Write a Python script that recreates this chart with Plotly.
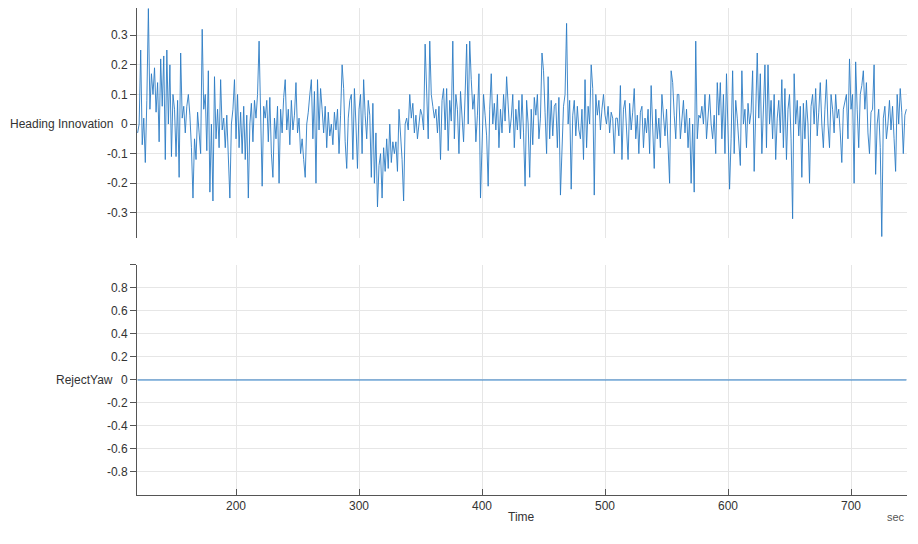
import plotly.graph_objects as go
from plotly.subplots import make_subplots

# Time base (seconds): regularly sampled series
time_start = 120.0
time_step = 1.25

# Heading innovation, 8 samples per 10 s block
heading_innovation = [
    -0.03, 0.0, 0.25, -0.07, 0.02, -0.13, 0.08, 0.39,
    0.05, 0.17, 0.1, 0.19, 0.04, 0.14, -0.06, 0.22,
    0.06, 0.23, -0.12, 0.25, 0.0, 0.2, -0.11, 0.1,
    0.05, -0.11, 0.08, -0.18, 0.24, 0.02, 0.06, -0.03,
    0.06, 0.1, 0.03, -0.08, -0.25, -0.05, -0.12, 0.04,
    -0.03, -0.1, 0.32, 0.05, 0.1, -0.09, 0.18, -0.23,
    0.0, -0.26, 0.16, -0.05, 0.05, -0.08, 0.15, -0.02,
    0.02, -0.08, 0.03, -0.12, -0.25, 0.0, 0.05, 0.15,
    -0.05, 0.1, -0.08, 0.04, -0.1, 0.06, -0.12, 0.03,
    -0.25, 0.0, 0.07, -0.06, 0.08, 0.02, 0.1, 0.28,
    0.05, -0.21, 0.06, 0.02, 0.08, -0.06, 0.09, -0.1,
    -0.18, 0.02, -0.05, 0.06, -0.2, 0.05, -0.03, 0.09,
    0.15, -0.02, 0.05, -0.07, 0.08, -0.02, 0.03, 0.14,
    -0.03, 0.02, -0.1, -0.05, -0.12, -0.18, 0.0, 0.04,
    0.1, 0.15, -0.05, 0.11, -0.2, 0.15, -0.02, 0.12,
    0.05, -0.03, 0.06, -0.08, 0.04, -0.04, 0.0, -0.07,
    0.04, -0.02, 0.05, -0.1, 0.03, 0.2, 0.12, -0.06,
    -0.15, 0.02, 0.08, 0.1, -0.12, 0.12, 0.0, -0.15,
    0.05, 0.1, -0.1, 0.15, 0.03, -0.05, 0.08, 0.03,
    -0.18, 0.07, -0.2, -0.03, -0.28, -0.14, -0.1, -0.25,
    -0.08, -0.16, -0.05, -0.15, 0.0, -0.13, -0.06, -0.1,
    -0.06, -0.16, 0.05, -0.04, -0.12, -0.26, 0.0, 0.02,
    -0.02, 0.1, 0.02, 0.07, -0.03, 0.03, -0.05, 0.0,
    0.05, 0.03, -0.02, 0.27, 0.07, -0.05, 0.28, 0.1,
    0.06, 0.02, 0.05, -0.03, 0.06, -0.12, 0.08, 0.12,
    -0.02, 0.12, -0.09, 0.08, 0.01, 0.28, -0.05, 0.1,
    0.05, -0.1, 0.11, 0.03, -0.06, 0.1, 0.27, 0.0,
    0.28, 0.15, 0.05, 0.1, -0.06, 0.03, 0.17, -0.25,
    -0.02, 0.1, 0.03, -0.04, -0.21, 0.05, 0.17, 0.0,
    0.07, -0.02, 0.1, -0.08, 0.05, -0.03, 0.1, 0.01,
    0.16, 0.07, -0.03, 0.02, 0.1, -0.08, 0.05, -0.02,
    0.08, -0.05, 0.1, -0.03, -0.21, 0.08, 0.0, -0.18,
    0.05, -0.07, 0.09, 0.03, 0.1, -0.05, 0.02, 0.24,
    0.18, 0.04, -0.1, 0.16, -0.05, 0.08, -0.04, 0.06,
    0.07, -0.08, 0.09, -0.24, -0.1, 0.06, 0.1, 0.34,
    0.0, 0.08, -0.22, 0.03, 0.08, -0.04, 0.06, -0.02,
    -0.05, 0.05, -0.12, 0.15, -0.08, 0.06, 0.0, 0.2,
    0.12, -0.24, 0.1, 0.03, 0.08, -0.02, 0.05, 0.1,
    0.03, 0.0, 0.06, -0.03, 0.04, 0.02, -0.1, 0.02,
    0.02, -0.04, 0.13, -0.12, 0.05, 0.08, -0.02, -0.12,
    0.07, -0.02, 0.04, 0.12, -0.05, 0.03, -0.1, 0.04,
    0.06, -0.08, 0.02, -0.03, 0.05, -0.1, 0.13, 0.0,
    -0.15, 0.05, -0.05, 0.02, -0.08, 0.1, 0.02, -0.04,
    0.05, -0.06, -0.2, 0.18, 0.14, 0.03, -0.05, 0.1,
    0.1, -0.05, 0.03, 0.08, -0.03, 0.05, -0.08, 0.02,
    -0.2, 0.0, -0.23, 0.28, -0.05, 0.03, 0.02, 0.06,
    0.0, 0.1, -0.05, 0.04, 0.1, 0.0, -0.05, 0.03,
    -0.1, 0.14, 0.03, 0.14, -0.05, 0.1, -0.1, 0.17,
    0.0, -0.22, -0.05, 0.18, -0.1, 0.08, 0.02, -0.08,
    -0.14, 0.18, 0.0, 0.05, -0.08, 0.07, 0.0, 0.04,
    0.18, -0.16, 0.1, 0.24, 0.02, 0.17, -0.1, 0.05,
    0.2, -0.08, 0.2, 0.0, 0.08, -0.05, 0.1, -0.12,
    0.02, 0.08, -0.03, 0.15, -0.08, 0.12, -0.12, 0.05,
    0.1, -0.05, -0.32, 0.17, 0.0, 0.08, -0.04, 0.06,
    -0.18, 0.07, -0.05, 0.08, 0.0, -0.2, 0.06, 0.1,
    0.0, 0.12, -0.04, 0.04, 0.14, 0.0, -0.08, 0.05,
    0.15, 0.0, -0.08, 0.1, 0.05, -0.03, 0.1, 0.02,
    0.05, -0.03, -0.13, 0.05, 0.08, 0.1, -0.05, 0.22,
    0.05, 0.1, -0.2, 0.21, 0.05, -0.08, 0.1, 0.13,
    0.18, 0.05, 0.14, -0.03, -0.1, 0.04, 0.05, 0.2,
    -0.17, 0.0, 0.05, -0.08, -0.38, 0.02, 0.06, -0.05,
    0.0, 0.08, -0.02, 0.06, -0.05, -0.16, 0.1, 0.0,
    0.12, 0.04, -0.1, 0.03, 0.05,
]

time = [time_start + time_step * i for i in range(len(heading_innovation))]

# RejectYaw flag: constant zero across the record
reject_yaw = [0 for _ in time]

# Tick labels
x_ticks = [200, 300, 400, 500, 600, 700]
top_tick_vals = [0.3, 0.2, 0.1, 0, -0.1, -0.2, -0.3]
top_tick_text = ["0.3", "0.2", "0.1", "0", "-0.1", "-0.2", "-0.3"]
bot_tick_vals = [1.0, 0.8, 0.6, 0.4, 0.2, 0, -0.2, -0.4, -0.6, -0.8]
bot_tick_text = ["", "0.8", "0.6", "0.4", "0.2", "0", "-0.2", "-0.4", "-0.6", "-0.8"]

line_color = "#2b7cc4"
grid_color = "#e6e6e6"
axis_color = "#555555"
font_family = "Liberation Sans, Arial, sans-serif"

fig = make_subplots(rows=2, cols=1, shared_xaxes=True, vertical_spacing=0.0554)

fig.add_trace(go.Scatter(x=time, y=heading_innovation, mode="lines",
                         line=dict(color=line_color, width=0.9), showlegend=False,
                         hoverinfo="x+y"), row=1, col=1)
fig.add_trace(go.Scatter(x=time, y=reject_yaw, mode="lines",
                         line=dict(color=line_color, width=1), showlegend=False,
                         hoverinfo="x+y"), row=2, col=1)

fig.update_layout(
    width=918, height=544,
    margin=dict(l=129, r=19, t=0, b=57),
    paper_bgcolor="white", plot_bgcolor="white",
    font=dict(family=font_family, size=12, color="#333333"),
)

fig.update_xaxes(range=[119.5, 745.5], tickvals=x_ticks, showgrid=True,
                 gridcolor=grid_color, gridwidth=1, zeroline=False)
fig.update_xaxes(showline=False, ticks="", showticklabels=False, row=1, col=1)
fig.update_xaxes(showline=True, linecolor=axis_color, linewidth=1,
                 ticks="inside", ticklen=6, tickcolor=axis_color,
                 showticklabels=True, row=2, col=1)

fig.update_yaxes(range=[-0.385, 0.392], tickvals=top_tick_vals, ticktext=top_tick_text,
                 showline=True, linecolor=axis_color, linewidth=1,
                 ticks="outside", ticklen=6, tickcolor=axis_color,
                 showgrid=True, gridcolor=grid_color, zeroline=False, row=1, col=1)
fig.update_yaxes(range=[-1.0, 1.0], tickvals=bot_tick_vals, ticktext=bot_tick_text,
                 showline=True, linecolor=axis_color, linewidth=1,
                 ticks="outside", ticklen=6, tickcolor=axis_color,
                 showgrid=True, gridcolor=grid_color, zeroline=False, row=2, col=1)

# Axis labels as horizontal text
fig.add_annotation(text="Heading Innovation", xref="paper", yref="y", x=-0.029, y=0,
                   xanchor="right", yanchor="middle", showarrow=False,
                   font=dict(size=12, color="#333333"))
fig.add_annotation(text="RejectYaw", xref="paper", yref="y2", x=-0.029, y=0,
                   xanchor="right", yanchor="middle", showarrow=False,
                   font=dict(size=12, color="#333333"))
fig.add_annotation(text="Time", xref="x2", yref="paper", x=432, y=-0.046,
                   xanchor="center", yanchor="middle", showarrow=False,
                   font=dict(size=12, color="#333333"))
fig.add_annotation(text="sec", xref="paper", yref="paper", x=1.0, y=-0.046,
                   xanchor="right", yanchor="middle", showarrow=False,
                   font=dict(size=11, color="#555555"))

fig.write_html("out.html")
